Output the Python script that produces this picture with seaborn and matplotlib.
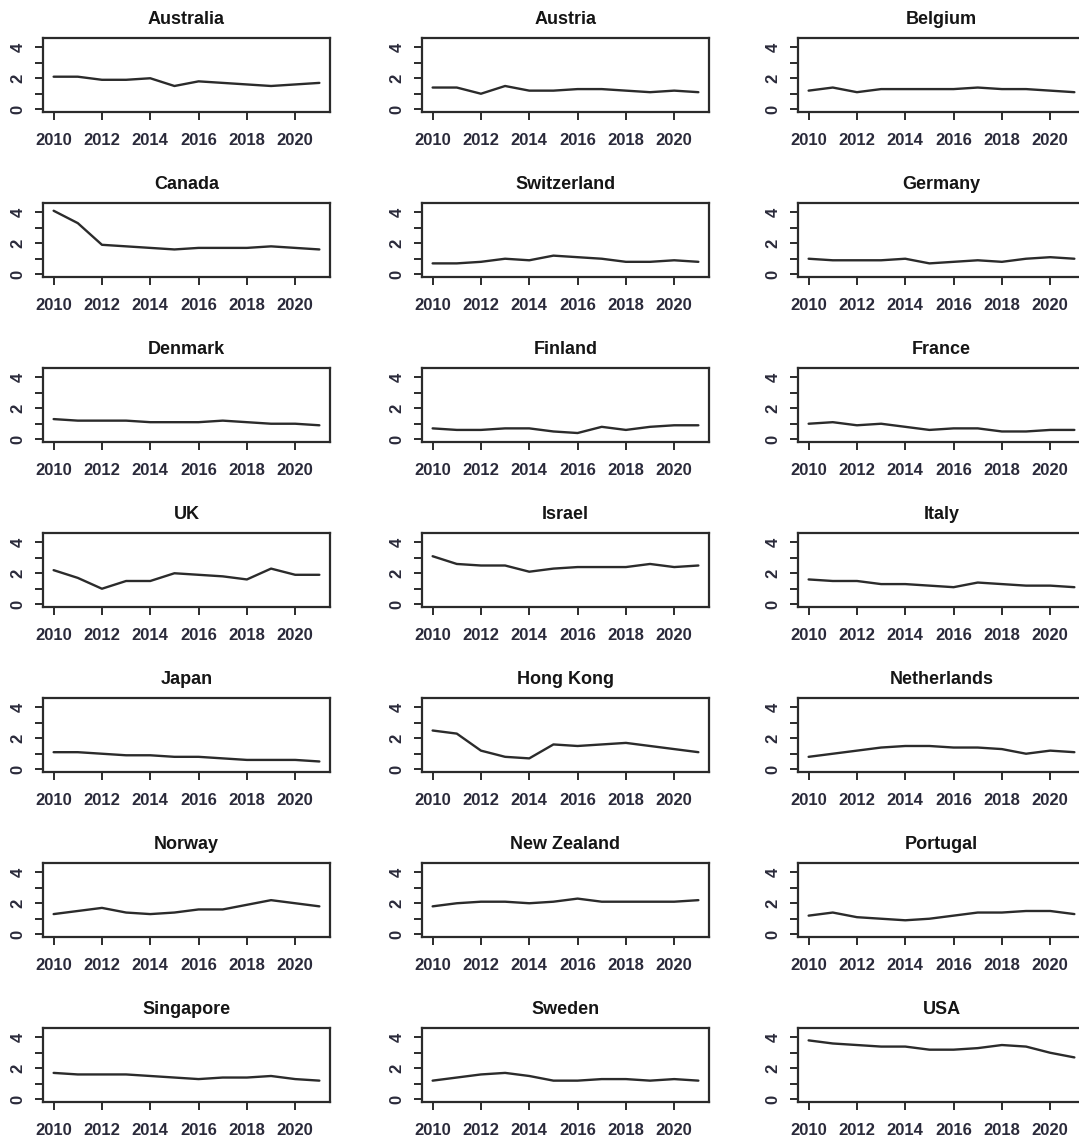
import numpy as np
import pandas as pd
import matplotlib
matplotlib.use("Agg")
import matplotlib.pyplot as plt
import seaborn as sns

years = list(range(2010, 2022))

countries = [
    "Australia", "Austria", "Belgium",
    "Canada", "Switzerland", "Germany",
    "Denmark", "Finland", "France",
    "UK", "Israel", "Italy",
    "Japan", "Hong Kong", "Netherlands",
    "Norway", "New Zealand", "Portugal",
    "Singapore", "Sweden", "USA",
]

australia = [2.1, 2.1, 1.9, 1.9, 2.0, 1.5, 1.8, 1.7, 1.6, 1.5, 1.6, 1.7]
austria = [1.4, 1.4, 1.0, 1.5, 1.2, 1.2, 1.3, 1.3, 1.2, 1.1, 1.2, 1.1]
belgium = [1.2, 1.4, 1.1, 1.3, 1.3, 1.3, 1.3, 1.4, 1.3, 1.3, 1.2, 1.1]
canada = [4.1, 3.3, 1.9, 1.8, 1.7, 1.6, 1.7, 1.7, 1.7, 1.8, 1.7, 1.6]
switzerland = [0.7, 0.7, 0.8, 1.0, 0.9, 1.2, 1.1, 1.0, 0.8, 0.8, 0.9, 0.8]
germany = [1.0, 0.9, 0.9, 0.9, 1.0, 0.7, 0.8, 0.9, 0.8, 1.0, 1.1, 1.0]
denmark = [1.3, 1.2, 1.2, 1.2, 1.1, 1.1, 1.1, 1.2, 1.1, 1.0, 1.0, 0.9]
finland = [0.7, 0.6, 0.6, 0.7, 0.7, 0.5, 0.4, 0.8, 0.6, 0.8, 0.9, 0.9]
france = [1.0, 1.1, 0.9, 1.0, 0.8, 0.6, 0.7, 0.7, 0.5, 0.5, 0.6, 0.6]
uk = [2.2, 1.7, 1.0, 1.5, 1.5, 2.0, 1.9, 1.8, 1.6, 2.3, 1.9, 1.9]
israel = [3.1, 2.6, 2.5, 2.5, 2.1, 2.3, 2.4, 2.4, 2.4, 2.6, 2.4, 2.5]
italy = [1.6, 1.5, 1.5, 1.3, 1.3, 1.2, 1.1, 1.4, 1.3, 1.2, 1.2, 1.1]
japan = [1.1, 1.1, 1.0, 0.9, 0.9, 0.8, 0.8, 0.7, 0.6, 0.6, 0.6, 0.5]
hong_kong = [2.5, 2.3, 1.2, 0.8, 0.7, 1.6, 1.5, 1.6, 1.7, 1.5, 1.3, 1.1]
netherlands = [0.8, 1.0, 1.2, 1.4, 1.5, 1.5, 1.4, 1.4, 1.3, 1.0, 1.2, 1.1]
norway = [1.3, 1.5, 1.7, 1.4, 1.3, 1.4, 1.6, 1.6, 1.9, 2.2, 2.0, 1.8]
new_zealand = [1.8, 2.0, 2.1, 2.1, 2.0, 2.1, 2.3, 2.1, 2.1, 2.1, 2.1, 2.2]
portugal = [1.2, 1.4, 1.1, 1.0, 0.9, 1.0, 1.2, 1.4, 1.4, 1.5, 1.5, 1.3]
singapore = [1.7, 1.6, 1.6, 1.6, 1.5, 1.4, 1.3, 1.4, 1.4, 1.5, 1.3, 1.2]
sweden = [1.2, 1.4, 1.6, 1.7, 1.5, 1.2, 1.2, 1.3, 1.3, 1.2, 1.3, 1.2]
usa = [3.8, 3.6, 3.5, 3.4, 3.4, 3.2, 3.2, 3.3, 3.5, 3.4, 3.0, 2.7]

series = [
    australia, austria, belgium, canada, switzerland, germany,
    denmark, finland, france, uk, israel, italy,
    japan, hong_kong, netherlands, norway, new_zealand, portugal,
    singapore, sweden, usa,
]

x_ticks = [2010, 2012, 2014, 2016, 2018, 2020]
y_ticks = [0, 1, 2, 3, 4]
y_tick_labels = ["0", "", "2", "", "4"]

df = pd.DataFrame(
    [(c, y, v) for c, vals in zip(countries, series) for y, v in zip(years, vals)],
    columns=["country", "year", "value"],
)

sns.set_style("ticks")
plt.rcParams["font.family"] = ["Liberation Sans", "DejaVu Sans"]

W, H = 1079, 1140
fig = plt.figure(figsize=(W / 100, H / 100), dpi=100)

col_left = [43, 422, 798]
box_w = 287
box_h = 74
row_top0 = 38
row_step = 165

ink = "#2b2b2b"

for i, country in enumerate(countries):
    r, c = divmod(i, 3)
    left = col_left[c]
    top = row_top0 + r * row_step
    ax = fig.add_axes([left / W, 1 - (top + box_h) / H, box_w / W, box_h / H])
    sub = df[df["country"] == country]
    sns.lineplot(data=sub, x="year", y="value", ax=ax, color=ink, linewidth=1.7)
    ax.set_xlim(2009.56, 2021.44)
    ax.set_ylim(-0.18, 4.6)
    ax.set_xticks(x_ticks)
    ax.set_xticklabels([str(t) for t in x_ticks], fontweight="bold")
    ax.set_yticks(y_ticks)
    ax.set_yticklabels(y_tick_labels, fontweight="bold")
    ax.set_xlabel("")
    ax.set_ylabel("")
    ax.set_title(country, fontsize=13, fontweight="bold", pad=10, color="#151515")
    for sp in ax.spines.values():
        sp.set_visible(True)
        sp.set_linewidth(1.6)
        sp.set_color(ink)
    ax.tick_params(axis="both", length=6, width=1.4, color=ink,
                   labelsize=12, labelcolor="#2a2a3a")
    ax.tick_params(axis="x", pad=9)
    ax.tick_params(axis="y", pad=12, labelrotation=90)
    for lbl in ax.get_yticklabels():
        lbl.set_va("center")
        lbl.set_ha("center")
    ax.set_facecolor("white")

fig.savefig("out.png", dpi=100, facecolor="white")
